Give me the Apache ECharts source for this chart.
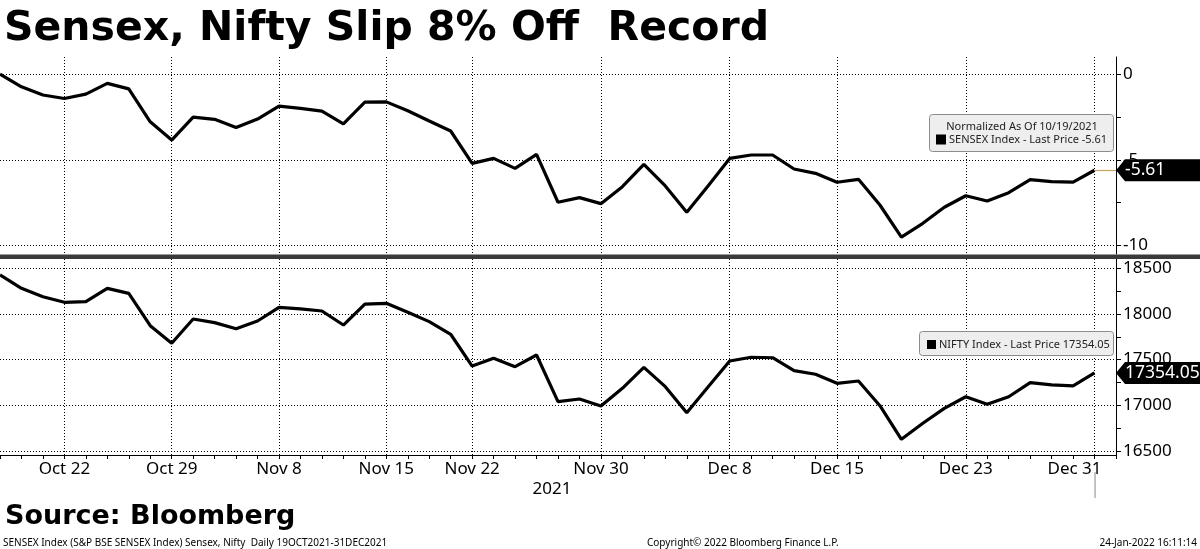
<!DOCTYPE html>
<html><head><meta charset="utf-8">
<script src="https://cdn.jsdelivr.net/npm/echarts@6/dist/echarts.min.js"></script>
<style>html,body{margin:0;padding:0;background:#fff}#c{width:1200px;height:549px}</style>
</head><body><div id="c"></div>
<script>
// ---------- data ----------
const dates = ['Oct 19','Oct 20','Oct 21','Oct 22','Oct 25','Oct 26','Oct 27','Oct 28','Oct 29',
  'Nov 1','Nov 2','Nov 3','Nov 4','Nov 8','Nov 9','Nov 10','Nov 11','Nov 12','Nov 15','Nov 16','Nov 17','Nov 18',
  'Nov 22','Nov 23','Nov 24','Nov 25','Nov 26','Nov 29','Nov 30','Dec 1','Dec 2','Dec 3','Dec 6','Dec 7','Dec 8',
  'Dec 9','Dec 10','Dec 13','Dec 14','Dec 15','Dec 16','Dec 17','Dec 20','Dec 21','Dec 22','Dec 23','Dec 24',
  'Dec 27','Dec 28','Dec 29','Dec 30','Dec 31'];
const tickLabels = ['Oct 22','Oct 29','Nov 8','Nov 15','Nov 22','Nov 30','Dec 8','Dec 15','Dec 23','Dec 31'];
const yearLabel = '2021';
const sensex = [0, -0.74, -1.22, -1.42, -1.17, -0.54, -0.86, -2.78, -3.85, -2.51, -2.64, -3.11, -2.62, -1.87,
  -2.00, -2.16, -2.90, -1.63, -1.62, -2.14, -2.74, -3.32, -5.21, -4.92, -5.50, -4.68, -7.48, -7.21, -7.56,
  -6.57, -5.27, -6.53, -8.06, -6.51, -4.92, -4.72, -4.72, -5.54, -5.79, -6.31, -6.14, -7.64, -9.52, -8.71,
  -7.77, -7.10, -7.41, -6.92, -6.16, -6.28, -6.31, -5.61];
const nifty = [18427, 18281, 18189, 18128, 18135, 18281, 18226, 17872, 17679, 17945, 17905, 17839, 17923, 18073,
  18055, 18033, 17879, 18109, 18117, 18018, 17916, 17778, 17430, 17515, 17423, 17551, 17040, 17069, 16993,
  17186, 17416, 17204, 16919, 17204, 17485, 17526, 17521, 17379, 17340, 17241, 17266, 16996, 16628, 16803,
  16967, 17094, 17011, 17094, 17248, 17223, 17212, 17354.05];
const sensexTicks = [-10, -7.5, -5, -2.5, 0];
const sensexLabels = [-10, -5, 0];
const niftyTicks = [16500, 16750, 17000, 17250, 17500, 17750, 18000, 18250, 18500];
const niftyLabels = [16500, 17000, 17500, 18000, 18500];
const titleText = 'Sensex, Nifty Slip 8% Off  Record';
const sourceText = 'Source: Bloomberg';
const footLeft = 'SENSEX Index (S&P BSE SENSEX Index) Sensex, Nifty  Daily 19OCT2021-31DEC2021';
const footMid = 'Copyright\u00A9 2022 Bloomberg Finance L.P.';
const footRight = '24-Jan-2022 16:11:14';
const sensexNote = 'Normalized As Of 10/19/2021';
const sensexLegend = 'SENSEX Index - Last Price ';
const niftyLegend = 'NIFTY Index - Last Price ';

// ---------- chart ----------
const cats = dates.concat(['']);
const isLabeled = (i) => tickLabels.indexOf(cats[i]) >= 0;
const FONT = 'Noto Sans';
const dotted = { color: '#000', type: [1, 2], width: 1 };
const lastS = sensex[sensex.length - 1];
const lastN = nifty[nifty.length - 1];
const lastI = dates.length - 1;

const xBase = (gi) => ({
  gridIndex: gi, type: 'category', data: cats, boundaryGap: false,
  splitLine: { show: true, interval: (i) => isLabeled(i), lineStyle: dotted }
});

const option = {
  animation: false,
  backgroundColor: '#fff',
  grid: [
    { left: 0, right: 84, top: 57, height: 197 },
    { left: 0, right: 84, top: 259, height: 196 }
  ],
  xAxis: [
    Object.assign(xBase(0), { axisLine: { show: false }, axisTick: { show: false }, axisLabel: { show: false } }),
    Object.assign(xBase(1), {
      axisLine: { show: true, lineStyle: { color: '#000', width: 1 } },
      axisTick: { show: true, interval: 0, length: 4, lineStyle: { color: '#000' } },
      axisLabel: {
        interval: (i) => isLabeled(i), color: '#000', fontSize: 17, fontFamily: FONT, margin: 6,
        formatter: (v) => v === tickLabels[tickLabels.length - 1] ? '{last|' + v + '}' : v,
        rich: { last: { color: '#000', fontSize: 17, fontFamily: FONT, padding: [0, 40, 0, 0] } }
      }
    })
  ],
  yAxis: [
    {
      gridIndex: 0, type: 'value', position: 'right', min: -10.5, max: 1,
      axisLine: { show: true, lineStyle: { color: '#000' } },
      axisTick: { show: true, customValues: sensexTicks, length: 5, lineStyle: { color: '#000' } },
      axisLabel: { customValues: sensexLabels, color: '#000', fontSize: 17, fontFamily: FONT, margin: 7, formatter: (v) => String(v) },
      splitLine: { show: false }
    },
    {
      gridIndex: 1, type: 'value', position: 'right', min: 16456, max: 18602,
      axisLine: { show: true, lineStyle: { color: '#000' } },
      axisTick: { show: true, customValues: niftyTicks, length: 5, lineStyle: { color: '#000' } },
      axisLabel: { customValues: niftyLabels, color: '#000', fontSize: 17, fontFamily: FONT, margin: 7, formatter: (v) => String(v) },
      splitLine: { show: false }
    }
  ],
  series: [
    {
      type: 'line', xAxisIndex: 0, yAxisIndex: 0, data: sensex, symbol: 'none', silent: true,
      lineStyle: { color: '#000', width: 3.2 },
      markLine: {
        symbol: 'none', silent: true, label: { show: false }, lineStyle: dotted,
        data: sensexLabels.map(v => ({ yAxis: v })).concat([[
          { coord: [lastI, lastS], lineStyle: { color: '#c9a06a', type: 'solid', width: 1.2 } },
          { coord: [lastI + 1, lastS] }
        ]])
      }
    },
    {
      type: 'line', xAxisIndex: 1, yAxisIndex: 1, data: nifty, symbol: 'none', silent: true,
      lineStyle: { color: '#000', width: 3.2 },
      markLine: {
        symbol: 'none', silent: true, label: { show: false }, lineStyle: dotted,
        data: niftyLabels.map(v => ({ yAxis: v }))
      }
    }
  ]
};

const chart = echarts.init(document.getElementById('c'), null, { renderer: 'canvas' });
chart.setOption(option);

// ---------- decorations positioned from the library's scales ----------
const pS = chart.convertToPixel({ seriesIndex: 0 }, [lastI, lastS]);
const eS = chart.convertToPixel({ seriesIndex: 0 }, [lastI + 1, lastS]);
const pN = chart.convertToPixel({ seriesIndex: 1 }, [lastI, lastN]);
const eN = chart.convertToPixel({ seriesIndex: 1 }, [lastI + 1, lastN]);

function tag(ax, y, txt) {
  return [
    { type: 'polygon', z: 100, shape: { points: [[ax, y], [ax + 9, y - 11], [1200, y - 11], [1200, y + 11], [ax + 9, y + 11]] },
      style: { fill: '#000' } },
    { type: 'text', z: 101, x: ax + 9, y: y, style: { text: txt, fill: '#fff', font: '17.5px "Noto Sans"', verticalAlign: 'middle', align: 'left' } }
  ];
}

const graphics = [
  { type: 'text', x: 4, y: 29, style: { text: titleText, fill: '#000', font: 'bold 41px "DejaVu Sans"', verticalAlign: 'middle' } },
  { type: 'rect', z: 90, shape: { x: 0, y: 254.5, width: 1200, height: 4.5 }, style: { fill: '#3a3a3a' } },
  // legend top
  { type: 'rect', z: 95, shape: { x: 929.5, y: 114.5, width: 184, height: 37, r: 3 }, style: { fill: '#eeeeee', stroke: '#8c8c8c', lineWidth: 1 } },
  { type: 'text', z: 96, x: 1022, y: 127, style: { text: sensexNote, fill: '#222', font: '11px "Noto Sans"', align: 'center', verticalAlign: 'middle' } },
  { type: 'rect', z: 96, shape: { x: 936, y: 134.5, width: 10, height: 10 }, style: { fill: '#000' } },
  { type: 'text', z: 96, x: 949, y: 140, style: { text: sensexLegend + lastS.toFixed(2), fill: '#222', font: '11px "Noto Sans"', verticalAlign: 'middle' } },
  // legend bottom
  { type: 'rect', z: 95, shape: { x: 919.5, y: 331.5, width: 194, height: 24, r: 3 }, style: { fill: '#eeeeee', stroke: '#8c8c8c', lineWidth: 1 } },
  { type: 'rect', z: 96, shape: { x: 927, y: 340, width: 9, height: 9 }, style: { fill: '#000' } },
  { type: 'text', z: 96, x: 939, y: 344.5, style: { text: niftyLegend + lastN.toFixed(2), fill: '#222', font: '11px "Noto Sans"', verticalAlign: 'middle' } },
  // year label and year-end marker
  { type: 'text', x: 552, y: 489, style: { text: yearLabel, fill: '#000', font: '17px "Noto Sans"', align: 'center', verticalAlign: 'middle' } },
  { type: 'line', shape: { x1: pN[0] + 0.5, y1: 472, x2: pN[0] + 0.5, y2: 498 }, style: { stroke: '#888', lineWidth: 1 } },
  // source & footer
  { type: 'text', x: 5, y: 517, style: { text: sourceText, fill: '#000', font: 'bold 27px "DejaVu Sans"', verticalAlign: 'middle' } },
  { type: 'text', x: 3, y: 543, style: { text: footLeft, fill: '#000', font: '10px "Noto Sans"', verticalAlign: 'middle' } },
  { type: 'text', x: 647, y: 543, style: { text: footMid, fill: '#000', font: '10px "Noto Sans"', verticalAlign: 'middle' } },
  { type: 'text', x: 1197, y: 543, style: { text: footRight, fill: '#000', font: '10px "Noto Sans"', align: 'right', verticalAlign: 'middle' } }
].concat(tag(eS[0], pS[1], lastS.toFixed(2))).concat(tag(eN[0], pN[1], lastN.toFixed(2)));

chart.setOption({ graphic: graphics });
</script>
</body></html>
